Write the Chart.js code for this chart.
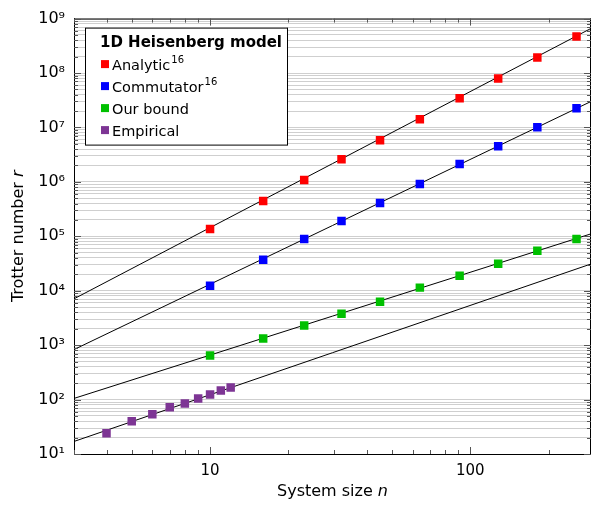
<!DOCTYPE html>
<html>
<head>
<meta charset="utf-8">
<script src="https://cdn.jsdelivr.net/npm/chart.js@4.4.1/dist/chart.umd.min.js"></script>
<style>
    html, body { margin: 0; padding: 0; background: #ffffff; }
</style>
</head>
<body>
<canvas id="trotterChart" width="591" height="506"></canvas>
<script>
// --- Data ---
const systemSizes = [10, 16, 23, 32, 45, 64, 91, 128, 181, 256];
const analyticValues = [1.36e5, 4.45e5, 1.08e6, 2.6e6, 5.8e6, 1.41e7, 3.43e7, 7.96e7, 1.93e8, 4.68e8];
const commutatorValues = [1.24e4, 3.7e4, 8.95e4, 1.91e5, 4.09e5, 9.1e5, 2.12e6, 4.53e6, 1.01e7, 2.25e7];
const ourBoundValues = [646, 1320, 2290, 3790, 6290, 1.14e4, 1.88e4, 3.13e4, 5.41e4, 8.96e4];

const empiricalSizes = [4, 5, 6, 7, 8, 9, 10, 11, 12];
const empiricalValues = [24, 40, 54, 72, 85, 105, 124, 147, 167];

// fitted power-law lines, evaluated at both ends of the x range
const fitSizes = [3, 291];
const analyticFit = [7.1e3, 6.6e8];
const commutatorFit = [830, 3.0e7];
const ourBoundFit = [105, 1.11e5];
const empiricalFit = [17, 3.1e4];

// axis ranges / tick values
const xRange = [3, 291];
const yRange = [10, 1e9];
const xTickValues = [3, 4, 5, 6, 7, 8, 9, 10, 20, 30, 40, 50, 60, 70, 80, 90, 100, 200];
const xTickLabels = [10, 100];
const yExponents = [1, 2, 3, 4, 5, 6, 7, 8, 9];

const seriesNames = ['Analytic', 'Commutator', 'Our bound', 'Empirical'];
const seriesRefs = ['16', '16', '', ''];
const seriesColors = ['#ff0000', '#0000ff', '#00c000', '#7d3594'];

const FONT = "'DejaVu Sans', sans-serif";
const SUP = { '0': '⁰', '1': '¹', '2': '²', '3': '³', '4': '⁴', '5': '⁵', '6': '⁶', '7': '⁷', '8': '⁸', '9': '⁹' };

function toPoints(xs, ys) {
    return xs.map((x, i) => ({ x: x, y: ys[i] }));
}

function isPowerOfTen(v) {
    const e = Math.log10(v);
    return Math.abs(e - Math.round(e)) < 1e-9;
}

// every minor/major position on the y axis (1..9 x 10^k)
function buildYTicks() {
    const ticks = [];
    for (let k = 1; k < 9; k++) {
        for (let d = 1; d <= 9; d++) ticks.push({ value: d * Math.pow(10, k) });
    }
    ticks.push({ value: 1e9 });
    return ticks;
}

// --- Markers + fit lines ---
function markerSet(label, xs, ys, color) {
    return {
        label: label,
        data: toPoints(xs, ys),
        showLine: false,
        pointStyle: 'rect',
        pointRadius: 6,
        pointHoverRadius: 6,
        backgroundColor: color,
        borderColor: color,
        borderWidth: 0,
        order: 0
    };
}

function fitSet(label, ys) {
    return {
        label: label,
        data: toPoints(fitSizes, ys),
        showLine: true,
        pointRadius: 0,
        borderColor: '#000000',
        borderWidth: 1,
        fill: false,
        order: 1
    };
}

// --- Frame plugin: top/right border, inward ticks, legend box, axis titles ---
const frameAndLegend = {
    id: 'frameAndLegend',
    afterDraw(chart) {
        const { ctx, chartArea, scales } = chart;
        const { left, right, top, bottom } = chartArea;
        ctx.save();

        // top + right border
        ctx.strokeStyle = '#000000';
        ctx.lineWidth = 1;
        ctx.beginPath();
        ctx.moveTo(left, top + 0.5);
        ctx.lineTo(right, top + 0.5);
        ctx.moveTo(right - 0.5, top);
        ctx.lineTo(right - 0.5, bottom);
        ctx.stroke();

        // inward x ticks (bottom and top)
        ctx.strokeStyle = '#555555';
        ctx.beginPath();
        scales.x.ticks.forEach(t => {
            const px = Math.round(scales.x.getPixelForValue(t.value)) + 0.5;
            const len = isPowerOfTen(t.value) ? 7 : 4;
            ctx.moveTo(px, bottom);
            ctx.lineTo(px, bottom - len);
            ctx.moveTo(px, top);
            ctx.lineTo(px, top + len);
        });
        // inward y ticks (left and right)
        scales.y.ticks.forEach(t => {
            const py = Math.round(scales.y.getPixelForValue(t.value)) + 0.5;
            const len = isPowerOfTen(t.value) ? 7 : 4;
            ctx.moveTo(left, py);
            ctx.lineTo(left + len, py);
            ctx.moveTo(right, py);
            ctx.lineTo(right - len, py);
        });
        ctx.stroke();

        // legend box
        const bx = left + 11, by = top + 9, bw = 202, bh = 117;
        ctx.fillStyle = '#ffffff';
        ctx.fillRect(bx, by, bw, bh);
        ctx.strokeStyle = '#000000';
        ctx.strokeRect(bx + 0.5, by + 0.5, bw, bh);

        ctx.fillStyle = '#000000';
        ctx.textBaseline = 'alphabetic';
        ctx.textAlign = 'left';
        ctx.font = 'bold 15px ' + FONT;
        ctx.fillText('1D Heisenberg model', bx + 15, by + 19);

        seriesNames.forEach((name, i) => {
            const cy = by + 36.5 + i * 22;
            ctx.fillStyle = seriesColors[i];
            ctx.fillRect(bx + 16, cy - 4, 8, 8);
            ctx.fillStyle = '#000000';
            ctx.font = '14.5px ' + FONT;
            ctx.fillText(name, bx + 27, cy + 5.5);
            if (seriesRefs[i]) {
                const w = ctx.measureText(name).width;
                ctx.font = '10px ' + FONT;
                ctx.fillText(seriesRefs[i], bx + 27 + w + 1, cy - 1);
            }
        });

        // x axis title: "System size n"
        const xa = 'System size ';
        ctx.font = '16px ' + FONT;
        const wa = ctx.measureText(xa).width;
        ctx.font = 'italic 16px ' + FONT;
        const wn = ctx.measureText('n').width;
        const cx = (left + right) / 2;
        const tx = cx - (wa + wn) / 2;
        ctx.font = '16px ' + FONT;
        ctx.fillText(xa, tx, 496);
        ctx.font = 'italic 16px ' + FONT;
        ctx.fillText('n', tx + wa, 496);

        // y axis title: "Trotter number r"
        ctx.save();
        ctx.translate(23, (top + bottom) / 2);
        ctx.rotate(-Math.PI / 2);
        const ya = 'Trotter number ';
        ctx.font = '16px ' + FONT;
        const wy = ctx.measureText(ya).width;
        ctx.font = 'italic 16px ' + FONT;
        const wr = ctx.measureText('r').width;
        const ty = -(wy + wr) / 2;
        ctx.font = '16px ' + FONT;
        ctx.fillText(ya, ty, 0);
        ctx.font = 'italic 16px ' + FONT;
        ctx.fillText('r', ty + wy, 0);
        ctx.restore();

        ctx.restore();
    }
};

// --- Build chart ---
function initTrotterChart(canvasId) {
    const ctx = document.getElementById(canvasId)?.getContext('2d');
    if (!ctx) {
        console.warn(`Canvas element with ID '${canvasId}' not found.`);
        return;
    }

    new Chart(ctx, {
        type: 'line',
        data: {
            datasets: [
                markerSet(seriesNames[0], systemSizes, analyticValues, seriesColors[0]),
                markerSet(seriesNames[1], systemSizes, commutatorValues, seriesColors[1]),
                markerSet(seriesNames[2], systemSizes, ourBoundValues, seriesColors[2]),
                markerSet(seriesNames[3], empiricalSizes, empiricalValues, seriesColors[3]),
                fitSet('Analytic fit', analyticFit),
                fitSet('Commutator fit', commutatorFit),
                fitSet('Our bound fit', ourBoundFit),
                fitSet('Empirical fit', empiricalFit)
            ]
        },
        options: {
            responsive: false,
            animation: false,
            devicePixelRatio: 1,
            layout: {
                autoPadding: false,
                padding: { top: 17, right: 0, left: 0, bottom: 0 }
            },
            plugins: {
                legend: { display: false },
                tooltip: { enabled: false }
            },
            scales: {
                x: {
                    type: 'logarithmic',
                    position: 'bottom',
                    min: xRange[0],
                    max: xRange[1],
                    afterBuildTicks(scale) {
                        scale.ticks = xTickValues.map(v => ({ value: v }));
                    },
                    afterFit(scale) {
                        scale.height = 52;
                        scale.paddingLeft = 0;
                        scale.paddingRight = 0;
                    },
                    grid: { display: false, drawTicks: false },
                    border: { display: true, color: '#000000', width: 1 },
                    ticks: {
                        autoSkip: false,
                        maxRotation: 0,
                        padding: 8,
                        color: '#000000',
                        font: { family: FONT, size: 15 },
                        callback: (value) => xTickLabels.includes(value) ? String(value) : ''
                    }
                },
                y: {
                    type: 'logarithmic',
                    position: 'left',
                    min: yRange[0],
                    max: yRange[1],
                    afterBuildTicks(scale) {
                        scale.ticks = buildYTicks();
                    },
                    afterFit(scale) { scale.width = 74; },
                    grid: { display: true, drawTicks: false, color: '#cfcfcf', lineWidth: 1 },
                    border: { display: true, color: '#000000', width: 1 },
                    ticks: {
                        autoSkip: false,
                        padding: 9,
                        color: '#000000',
                        font: { family: FONT, size: 16 },
                        callback: (value) => {
                            if (!isPowerOfTen(value)) return '';
                            const e = Math.round(Math.log10(value));
                            return yExponents.includes(e) ? '10' + SUP[String(e)] : '';
                        }
                    }
                }
            }
        },
        plugins: [frameAndLegend]
    });
}

document.addEventListener('DOMContentLoaded', function () {
    initTrotterChart('trotterChart');
});
</script>
</body>
</html>
